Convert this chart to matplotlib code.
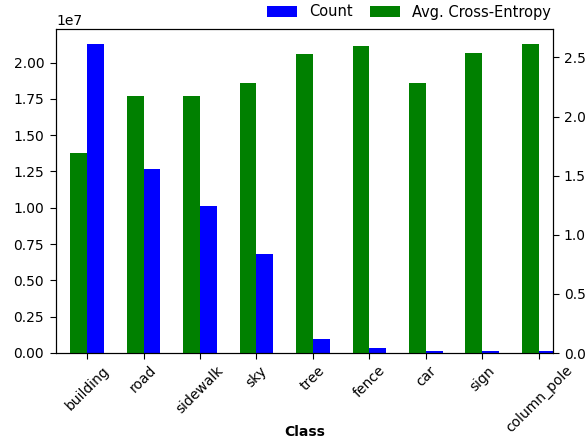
import matplotlib
matplotlib.use("Agg")
import matplotlib.pyplot as plt
import numpy as np

classes = ["building", "road", "sidewalk", "sky", "tree", "fence", "car", "sign", "column_pole"]
counts = [2.125e7, 1.265e7, 1.01e7, 6.85e6, 9.3e5, 3.1e5, 1.2e5, 1.2e5, 1.2e5]
cross_entropy = [1.69, 2.17, 2.17, 2.28, 2.525, 2.60, 2.285, 2.535, 2.61]

fig = plt.figure(figsize=(5.86, 4.43), dpi=100)
ax = fig.add_axes([56/586, 1 - 353/443, 497/586, 324/443])
ax2 = ax.twinx()

x = np.arange(len(classes))
w = 0.3
ax.bar(x + w/2, counts, width=w, color="blue", label="Count", linewidth=0)
ax2.bar(x - w/2, cross_entropy, width=w, color="green", label="Avg. Cross-Entropy", linewidth=0)

ax.set_xlim(-0.55, 8.25)
ax.set_ylim(0, max(counts) * 1.05)
ax2.set_ylim(0, max(cross_entropy) * 1.05)
ax.set_xticks(x)
ax.set_xticklabels(classes, rotation=45)
ax.tick_params(axis="y", length=4, pad=4.5)
ax2.tick_params(axis="y", length=4, pad=3.8)
ax.tick_params(axis="x", length=4)

ax.set_xlabel("Class", fontweight="bold")
ax.xaxis.set_label_coords(0.5, (353 - 436) / 324)
ax.xaxis.label.set_va("baseline")

h1, l1 = ax.get_legend_handles_labels()
h2, l2 = ax2.get_legend_handles_labels()
fig.legend(h1 + h2, l1 + l2, loc="center right", bbox_to_anchor=(551/586, 1 - 12/443),
           ncol=2, frameon=False, borderaxespad=0.0, borderpad=0.0,
           fontsize=10.5, columnspacing=1.15, handlelength=2.05, handletextpad=0.85)

fig.savefig("out.png", dpi=100)
